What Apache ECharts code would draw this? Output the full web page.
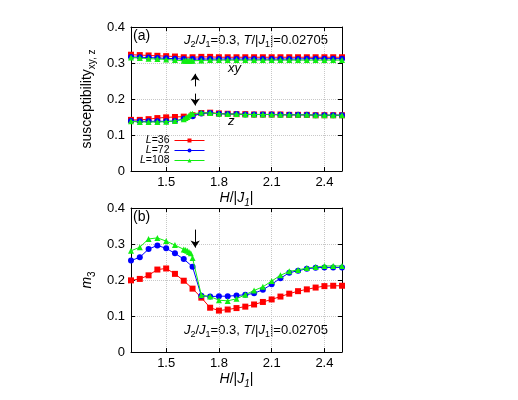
<!DOCTYPE html>
<html>
<head>
<meta charset="utf-8">
<script src="https://cdn.jsdelivr.net/npm/echarts@6/dist/echarts.min.js"></script>
<style>
html, body { margin: 0; padding: 0; background: #fff; }
#main { width: 518px; height: 400px; }
</style>
</head>
<body>
<div id="main"></div>
<script>
// field values H/|J1|
const xBase = [1.3, 1.35, 1.4, 1.45, 1.5, 1.55, 1.6, 1.65, 1.7, 1.75, 1.8, 1.85, 1.9, 1.95,
  2.0, 2.05, 2.1, 2.15, 2.2, 2.25, 2.3, 2.35, 2.4, 2.45, 2.5];
// L=108 has extra points near the transition
const xDense = [1.3, 1.35, 1.4, 1.45, 1.5, 1.55, 1.6, 1.61, 1.62, 1.63, 1.64, 1.65, 1.7, 1.75,
  1.8, 1.85, 1.9, 1.95, 2.0, 2.05, 2.1, 2.15, 2.2, 2.25, 2.3, 2.35, 2.4, 2.45, 2.5];
const xTicks = [1.5, 1.8, 2.1, 2.4];
const legendNames = ['L=36', 'L=72', 'L=108'];

// (a) susceptibility, xy branch
const chiXY36 = [0.323, 0.322, 0.321, 0.320, 0.319, 0.318, 0.316, 0.316, 0.317, 0.317, 0.316, 0.316, 0.316,
  0.316, 0.316, 0.316, 0.316, 0.316, 0.316, 0.316, 0.316, 0.316, 0.316, 0.316, 0.316];
const chiXY72 = [0.317, 0.316, 0.315, 0.314, 0.313, 0.312, 0.311, 0.311, 0.311, 0.311, 0.311, 0.311, 0.311,
  0.311, 0.311, 0.311, 0.311, 0.311, 0.311, 0.311, 0.312, 0.312, 0.312, 0.312, 0.312];
const chiXY108 = [0.315, 0.314, 0.312, 0.311, 0.310, 0.308, 0.306, 0.306, 0.306, 0.306, 0.306, 0.306, 0.307,
  0.308, 0.308, 0.308, 0.308, 0.308, 0.308, 0.308, 0.308, 0.308, 0.308, 0.308, 0.308, 0.308, 0.308, 0.308, 0.308];
// (a) susceptibility, z branch
const chiZ36 = [0.142, 0.142, 0.144, 0.147, 0.149, 0.150, 0.151, 0.155, 0.161, 0.162, 0.160, 0.159, 0.158,
  0.158, 0.157, 0.157, 0.157, 0.157, 0.156, 0.156, 0.156, 0.155, 0.155, 0.155, 0.155];
const chiZ72 = [0.139, 0.138, 0.138, 0.138, 0.138, 0.139, 0.145, 0.152, 0.160, 0.161, 0.159, 0.158, 0.158,
  0.157, 0.157, 0.157, 0.157, 0.156, 0.156, 0.156, 0.156, 0.155, 0.155, 0.155, 0.155];
const chiZ108 = [0.138, 0.136, 0.136, 0.136, 0.137, 0.139, 0.144, 0.147, 0.150, 0.154, 0.158, 0.159, 0.162,
  0.161, 0.159, 0.158, 0.158, 0.157, 0.157, 0.157, 0.157, 0.156, 0.156, 0.156, 0.156, 0.155, 0.155, 0.155, 0.155];
// (b) order parameter m3
const m3L36 = [0.199, 0.203, 0.213, 0.229, 0.232, 0.217, 0.198, 0.176, 0.151, 0.123, 0.115, 0.118, 0.122,
  0.126, 0.132, 0.139, 0.146, 0.154, 0.162, 0.169, 0.174, 0.179, 0.183, 0.184, 0.184];
const m3L72 = [0.254, 0.263, 0.286, 0.296, 0.288, 0.274, 0.258, 0.237, 0.156, 0.154, 0.155, 0.155, 0.157,
  0.159, 0.163, 0.173, 0.188, 0.205, 0.220, 0.226, 0.231, 0.234, 0.235, 0.235, 0.235];
const m3L108 = [0.281, 0.291, 0.314, 0.317, 0.308, 0.297, 0.285, 0.283, 0.281, 0.278, 0.274, 0.261, 0.158,
  0.154, 0.144, 0.142, 0.148, 0.159, 0.171, 0.181, 0.197, 0.213, 0.224, 0.228, 0.233, 0.236, 0.239, 0.239, 0.239];

// arrows [x, yFrom, yTo]
const arrowsA = [[1.665, 0.235, 0.27], [1.665, 0.215, 0.182]];
const arrowsB = [[1.665, 0.34, 0.29]];

const FONT = '"Liberation Sans", Arial, sans-serif';
const colors = ['#ff0000', '#0000ff', '#11ee11'];
const symbols = ['rect', 'circle', 'triangle'];
const sizes = [6, 6, 6];

const rich = {
  n: {fontSize: 13, lineHeight: 18, fontFamily: FONT},
  i: {fontSize: 13, lineHeight: 18, fontStyle: 'italic', fontFamily: FONT},
  s: {fontSize: 9, lineHeight: 10, verticalAlign: 'bottom', fontFamily: FONT}
};
const nameRich = {
  n: {fontSize: 14, lineHeight: 20, fontFamily: FONT},
  i: {fontSize: 14, lineHeight: 20, fontStyle: 'italic', fontFamily: FONT},
  s: {fontSize: 10, lineHeight: 11, verticalAlign: 'bottom', fontFamily: FONT},
  si: {fontSize: 10, lineHeight: 11, verticalAlign: 'bottom', fontStyle: 'italic', fontFamily: FONT}
};
const paramText = '{i|J}{s|2}{n|/}{i|J}{s|1}{n|=0.3, }{i|T}{n|/|}{i|J}{s|1}{n||=0.02705}';
const hName = '{i|H}{n|/|}{i|J}{si|1}{n||}';

function pairs(xs, ys) {
  return xs.map((x, i) => [x, ys[i]]);
}

function lineSeries(k, xs, ys, axis) {
  return {
    name: legendNames[k],
    type: 'line',
    xAxisIndex: axis,
    yAxisIndex: axis,
    data: pairs(xs, ys),
    symbol: symbols[k],
    symbolSize: sizes[k],
    itemStyle: {color: colors[k]},
    lineStyle: {color: colors[k], width: 1},
    z: 3 + k,
    animation: false
  };
}

function arrowSeries(list, axis) {
  return {
    type: 'line',
    xAxisIndex: axis,
    yAxisIndex: axis,
    data: [],
    silent: true,
    markLine: {
      silent: true,
      animation: false,
      symbol: ['none', 'arrow'],
      symbolSize: 7,
      label: {show: false},
      lineStyle: {color: '#000', width: 1, type: 'solid'},
      data: list.map(a => [{coord: [a[0], a[1]]}, {coord: [a[0], a[2]]}])
    }
  };
}

function bottomAxis(g) {
  return {
    gridIndex: g, type: 'value', min: 1.3, max: 2.5,
    name: hName, nameLocation: 'middle', nameGap: 17,
    nameTextStyle: {rich: nameRich},
    axisLine: {show: true, onZero: false, lineStyle: {color: '#000'}},
    axisTick: {show: true, inside: true, length: 4, customValues: xTicks, lineStyle: {color: '#000'}},
    axisLabel: {customValues: xTicks, color: '#000', fontSize: 13, margin: 5, fontFamily: FONT},
    splitLine: {show: true, lineStyle: {color: '#c8c8c8', type: 'dotted'}}
  };
}
function topAxis(g) {
  return {
    gridIndex: g, type: 'value', min: 1.3, max: 2.5, position: 'top',
    axisLine: {show: true, onZero: false, lineStyle: {color: '#000'}},
    axisTick: {show: true, inside: true, length: 4, customValues: xTicks, lineStyle: {color: '#000'}},
    axisLabel: {show: false},
    splitLine: {show: false}
  };
}
function leftAxis(g, name) {
  return {
    gridIndex: g, type: 'value', min: 0, max: 0.4, interval: 0.1,
    name: name, nameLocation: 'middle', nameGap: 34, nameRotate: 90,
    nameTextStyle: {rich: nameRich},
    axisLine: {show: true, onZero: false, lineStyle: {color: '#000'}},
    axisTick: {show: true, inside: true, length: 4, lineStyle: {color: '#000'}},
    axisLabel: {color: '#000', fontSize: 13, margin: 6, fontFamily: FONT},
    splitLine: {show: true, lineStyle: {color: '#c8c8c8', type: 'dotted'}}
  };
}
function rightAxis(g) {
  return {
    gridIndex: g, type: 'value', min: 0, max: 0.4, interval: 0.1, position: 'right',
    axisLine: {show: true, onZero: false, lineStyle: {color: '#000'}},
    axisTick: {show: true, inside: true, length: 4, lineStyle: {color: '#000'}},
    axisLabel: {show: false},
    splitLine: {show: false}
  };
}

const myChart = echarts.init(document.getElementById('main'));
myChart.setOption({
  animation: false,
  textStyle: {fontFamily: FONT, color: '#000'},
  grid: [
    {left: 131, top: 27, width: 211, height: 144},
    {left: 131, top: 208, width: 211, height: 144}
  ],
  xAxis: [bottomAxis(0), bottomAxis(1), topAxis(0), topAxis(1)],
  yAxis: [
    leftAxis(0, '{n|susceptibility}{s|xy, z}'),
    leftAxis(1, '{i|m}{s|3}'),
    rightAxis(0), rightAxis(1)
  ],
  legend: legendNames.map((n, k) => ({
    data: [n],
    orient: 'vertical',
    right: 313,
    top: 135 + 10 * k,
    align: 'right',
    itemWidth: 30,
    itemHeight: 5,
    padding: 0,
    selectedMode: false,
    lineStyle: {width: 1},
    formatter: name => '{i|L}{n|' + name.slice(1) + '}',
    textStyle: {
      rich: {
        i: {fontSize: 10.5, fontStyle: 'italic', fontFamily: FONT},
        n: {fontSize: 10.5, fontFamily: FONT}
      }
    }
  })),
  graphic: [
    {type: 'text', left: 133, top: 29, style: {text: '(a)', fontSize: 14, fontFamily: FONT, fill: '#000'}},
    {type: 'text', left: 133, top: 210, style: {text: '(b)', fontSize: 14, fontFamily: FONT, fill: '#000'}},
    {type: 'text', left: 184, top: 34, style: {text: paramText, rich: rich, fill: '#000'}},
    {type: 'text', left: 184, top: 324, style: {text: paramText, rich: rich, fill: '#000'}},
    {type: 'text', left: 228, top: 62, style: {text: 'xy', fontSize: 13, fontStyle: 'italic', fontFamily: FONT, fill: '#000'}},
    {type: 'text', left: 228, top: 115, style: {text: 'z', fontSize: 13, fontStyle: 'italic', fontFamily: FONT, fill: '#000'}}
  ],
  series: [
    lineSeries(0, xBase, chiXY36, 0),
    lineSeries(0, xBase, chiZ36, 0),
    lineSeries(1, xBase, chiXY72, 0),
    lineSeries(1, xBase, chiZ72, 0),
    lineSeries(2, xDense, chiXY108, 0),
    lineSeries(2, xDense, chiZ108, 0),
    lineSeries(0, xBase, m3L36, 1),
    lineSeries(1, xBase, m3L72, 1),
    lineSeries(2, xDense, m3L108, 1),
    arrowSeries(arrowsA, 0),
    arrowSeries(arrowsB, 1)
  ]
});
</script>
</body>
</html>
